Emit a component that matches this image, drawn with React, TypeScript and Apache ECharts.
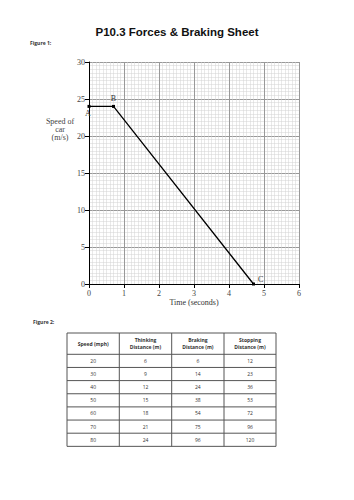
import React, { useEffect, useRef } from "react";
import * as echarts from "echarts";

const times = [0, 0.7, 4.7];
const speeds = [24, 24, 0];
const pointNames = ["A", "B", "C"];

const tableHeaders = ["Speed (mph)", "Thinking\nDistance (m)", "Braking\nDistance (m)", "Stopping\nDistance (m)"];
const speedMph = [20, 30, 40, 50, 60, 70, 80];
const thinkingDist = [6, 9, 12, 15, 18, 21, 24];
const brakingDist = [6, 14, 24, 38, 54, 75, 96];
const stoppingDist = [12, 23, 36, 53, 72, 96, 120];

const SERIF = "'Liberation Serif', 'DejaVu Serif', serif";
const SANS = "'Liberation Sans', Arial, sans-serif";
const BODY = "'Open Sans', 'Lato', sans-serif";

export default function App() {
  const ref = useRef<HTMLDivElement>(null);
  useEffect(() => {
    document.body.style.margin = "0";
    const chart = echarts.init(ref.current!, null, { renderer: "svg" });

    const labelPos: any[] = [
      { position: "bottom", distance: 2, offset: [-1, 0] },
      { position: "top", distance: 2 },
      { position: "right", distance: 3, offset: [0, -5] },
    ];
    const lineData = times.map((t, i) => ({
      value: [t, speeds[i]],
      name: pointNames[i],
      label: { show: true, formatter: "{b}", fontFamily: SERIF, fontSize: 8, color: "#333", ...labelPos[i] },
    }));

    // table graphics
    const colX = [67, 119.3, 171.7, 224, 276];
    const top = 333;
    const headerBottom = 354.3;
    const rowH = 13.15;
    const nRows = speedMph.length;
    const bottom = headerBottom + rowH * nRows;
    const tg: any[] = [];
    const lineStyle = { stroke: "#555", lineWidth: 1 };
    const hys = [top, headerBottom];
    for (let i = 1; i <= nRows; i++) hys.push(headerBottom + rowH * i);
    hys.forEach((y) => tg.push({ type: "line", shape: { x1: colX[0], y1: y, x2: colX[4], y2: y }, style: lineStyle }));
    colX.forEach((x) => tg.push({ type: "line", shape: { x1: x, y1: top, x2: x, y2: bottom }, style: lineStyle }));
    tableHeaders.forEach((h, c) => {
      tg.push({
        type: "text",
        x: (colX[c] + colX[c + 1]) / 2,
        y: (top + headerBottom) / 2,
        style: { text: h, fontFamily: BODY, fontSize: 5, fontWeight: "bold", fill: "#333", align: "center", verticalAlign: "middle", lineHeight: 7 },
      });
    });
    const cols = [speedMph, thinkingDist, brakingDist, stoppingDist];
    for (let r = 0; r < nRows; r++) {
      cols.forEach((col, c) => {
        tg.push({
          type: "text",
          x: (colX[c] + colX[c + 1]) / 2,
          y: headerBottom + rowH * (r + 0.5),
          style: { text: String(col[r]), fontFamily: BODY, fontSize: 5, fill: "#333", align: "center", verticalAlign: "middle" },
        });
      });
    }

    chart.setOption({
      animation: false,
      backgroundColor: "#fff",
      grid: { left: 89, right: 55, top: 62, bottom: 216, containLabel: false },
      xAxis: {
        type: "value",
        min: 0,
        max: 6,
        interval: 1,
        name: "Time (seconds)",
        nameLocation: "middle",
        nameGap: 14,
        nameTextStyle: { fontFamily: SERIF, fontSize: 8, color: "#333" },
        axisLine: { show: true, onZero: false, lineStyle: { color: "#000", width: 1 } },
        axisTick: { show: true, length: 4, lineStyle: { color: "#000" } },
        axisLabel: { fontFamily: SERIF, fontSize: 8, color: "#444", margin: 5 },
        splitLine: { show: true, lineStyle: { color: "#999", width: 1 } },
        minorTick: { show: false, splitNumber: 10 },
        minorSplitLine: { show: true, lineStyle: { color: "#d2d2d2", width: 0.5 } },
      },
      yAxis: {
        type: "value",
        min: 0,
        max: 30,
        interval: 5,
        axisLine: { show: true, onZero: false, lineStyle: { color: "#000", width: 1 } },
        axisTick: { show: true, length: 4, lineStyle: { color: "#000" } },
        axisLabel: { fontFamily: SERIF, fontSize: 8, color: "#444", margin: 4 },
        splitLine: { show: true, lineStyle: { color: "#999", width: 1 } },
        minorTick: { show: false, splitNumber: 10 },
        minorSplitLine: { show: true, lineStyle: { color: "#d2d2d2", width: 0.5 } },
      },
      series: [
        {
          type: "line",
          data: lineData,
          symbol: "rect",
          symbolSize: 3,
          itemStyle: { color: "#000" },
          lineStyle: { color: "#000", width: 1.3 },
          label: { show: true, color: "#333" },
        },
      ],
      graphic: [
        {
          type: "text",
          x: 177,
          y: 32,
          style: { text: "P10.3 Forces & Braking Sheet", fontFamily: SANS, fontSize: 11.5, fontWeight: "bold", fill: "#111", align: "center", verticalAlign: "middle" },
        },
        {
          type: "text",
          x: 30,
          y: 43,
          style: { text: "Figure 1:", fontFamily: BODY, fontSize: 5, fontWeight: "bold", fill: "#333", align: "left", verticalAlign: "middle" },
        },
        {
          type: "text",
          x: 33,
          y: 322,
          style: { text: "Figure 2:", fontFamily: BODY, fontSize: 5, fontWeight: "bold", fill: "#333", align: "left", verticalAlign: "middle" },
        },
        {
          type: "text",
          x: 60,
          y: 129.5,
          style: { text: "Speed of\ncar\n(m/s)", fontFamily: SERIF, fontSize: 8, fill: "#444", align: "center", verticalAlign: "middle", lineHeight: 8 },
        },
        ...tg,
      ],
    });
    return () => chart.dispose();
  }, []);
  return <div ref={ref} style={{ width: 354, height: 500 }} />;
}
